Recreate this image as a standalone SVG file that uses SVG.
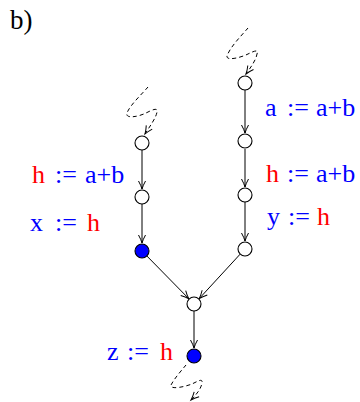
<svg xmlns="http://www.w3.org/2000/svg" width="360" height="402" viewBox="0 0 360 402">
<style>
.n{fill:#fff;stroke:#000;stroke-width:1.1}
.f{fill:#0000ff;stroke:#000;stroke-width:1.1}
.e{stroke:#000;stroke-width:1;fill:none;marker-end:url(#ah)}
.d{stroke:#000;stroke-width:1;fill:none;stroke-dasharray:4,3;marker-end:url(#ah)}
text{font-family:"Liberation Serif","Times New Roman",serif;font-size:26px}
.b{fill:#0000ff}
.r{fill:#ff0000}
</style>
<defs>
<marker id="ah" markerUnits="userSpaceOnUse" markerWidth="12" markerHeight="12" viewBox="-10 -6 12 12" refX="0" refY="0" orient="auto" overflow="visible">
<path d="M-8,-3.5 Q-3.5,-1 0,0 Q-3.5,1 -8,3.5" fill="none" stroke="#000" stroke-width="1"/>
</marker>
</defs>
<text x="10" y="29" style="font-size:27px" fill="#000">b)</text>
<g id="connectors">
<path class="d" d="M148,87 C142,94 130,105 127,113 C125,119 138,117 146,113 C152,110 158,107 157,112 C156,118 150,126 145,134"/>
<path class="d" d="M248,28 C242,35 230,47 227,56 C226,61 240,58 248,54 C254,51 259,49 257,54 C256,60 251,67 246,74"/>
<path class="d" d="M186,365 C181,371 174,379 171,385 C170,390 184,387 192,384 C198,381 203,378 202,383 C201,389 196,395 191,400"/>
<line class="e" x1="142" y1="150" x2="142" y2="189"/>
<line class="e" x1="142" y1="204" x2="142" y2="243"/>
<line class="e" x1="245" y1="90" x2="245" y2="133"/>
<line class="e" x1="245" y1="149" x2="245" y2="187"/>
<line class="e" x1="245" y1="202" x2="245" y2="241"/>
<line class="e" x1="146.9" y1="256" x2="188.8" y2="298.7"/>
<line class="e" x1="240.2" y1="254.1" x2="199.3" y2="298.5"/>
<line class="e" x1="194" y1="311" x2="194" y2="348"/>
</g>
<g id="L1"><circle class="n" cx="142" cy="143" r="7"/></g>
<g id="L2"><circle class="n" cx="142" cy="197" r="7"/></g>
<g id="L3"><circle class="f" cx="142" cy="251" r="7"/></g>
<g id="R0"><circle class="n" cx="245" cy="83" r="7"/></g>
<g id="R1"><circle class="n" cx="245" cy="141" r="7"/></g>
<g id="R2"><circle class="n" cx="245" cy="195" r="7"/></g>
<g id="R3"><circle class="n" cx="245" cy="249" r="7"/></g>
<g id="M"><circle class="n" cx="194" cy="304" r="7"/></g>
<g id="Z"><circle class="f" cx="194" cy="356" r="7"/></g>
<g id="labels">
<text x="32" y="183"><tspan class="r">h</tspan><tspan class="b" x="55">:=</tspan><tspan class="b" x="85">a+b</tspan></text>
<text x="30" y="231"><tspan class="b">x</tspan><tspan class="b" x="55">:=</tspan><tspan class="r" x="87">h</tspan></text>
<text x="265" y="116" class="b"><tspan>a</tspan><tspan x="287">:=</tspan><tspan x="316">a+b</tspan></text>
<text x="266" y="182"><tspan class="r">h</tspan><tspan class="b" x="287">:=</tspan><tspan class="b" x="316">a+b</tspan></text>
<text x="267" y="225"><tspan class="b">y</tspan><tspan class="b" x="288">:=</tspan><tspan class="r" x="317">h</tspan></text>
<text x="107" y="360"><tspan class="b">z</tspan><tspan class="b" x="127">:=</tspan><tspan class="r" x="160">h</tspan></text>
</g>
</svg>
